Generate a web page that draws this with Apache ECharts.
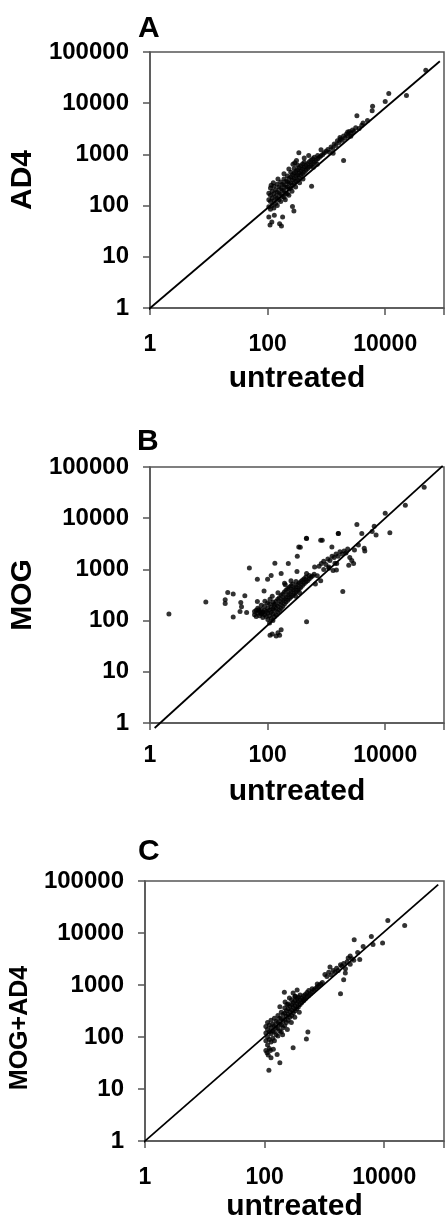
<!DOCTYPE html>
<html><head><meta charset="utf-8">
<script src="https://cdn.jsdelivr.net/npm/echarts@6/dist/echarts.min.js"></script>
<style>html,body{margin:0;padding:0;background:#fff}#c{width:447px;height:1223px}</style>
</head><body><div id="c"></div>
<script>
const panelLetters = ['A', 'B', 'C'];
const yTitles = ['AD4', 'MOG', 'MOG+AD4'];
const xTitle = 'untreated';
const yTickLabels = ['1', '10', '100', '1000', '10000', '100000'];
const xTickLabels = ['1', '100', '10000'];

// Panel A: [untreated, AD4]
const panelA = [
[105,60],[105,95],[105,130],[105,175],[112,85],[112,120],[112,160],[112,220],[120,100],[120,140],[120,190],
[128,90],[128,125],[128,170],[128,240],[137,110],[137,150],[137,205],[146,100],[146,140],[146,185],[146,260],
[156,130],[156,175],[156,230],[167,120],[167,165],[167,215],[167,290],[178,150],[178,200],[178,260],
[190,145],[190,195],[190,250],[190,330],[203,175],[203,230],[203,300],[217,170],[217,230],[217,290],[217,380],
[232,210],[232,270],[232,340],[248,220],[248,280],[248,360],[248,450],[265,250],[265,320],[265,400],
[283,270],[283,340],[283,430],[283,530],[302,300],[302,380],[302,470],[323,320],[323,400],[323,500],[323,620],
[345,350],[345,440],[345,550],[368,390],[368,480],[368,600],[393,420],[393,520],[393,650],[420,450],[420,560],[420,700],
[449,490],[449,610],[479,530],[479,660],[512,570],[512,720],[547,610],[547,770],[584,660],[584,820],[624,700],[624,880],
[666,760],[711,820],[711,950],[760,880],[811,940],[866,1000],[925,1080],[988,1150],
[200,130],[230,160],[260,190],[300,230],[350,280],[400,330],[190,420],[230,520],[270,640],[310,760],[420,850],
[500,950],[600,560],[700,640],[150,330],[125,280],[115,250],
[110,42],[118,48],[160,44],[172,40],[265,96],[280,78],[340,1080],[290,690],[560,240],[180,60],[130,65],
[1060,1250],[1130,1100],[1200,1400],[1280,1300],[1360,1600],[1450,1500],
[1540,1850],[1640,1700],[1740,2000],[1850,1900],[1960,2300],[2080,2100],[2200,2500],[2330,2300],[2470,2800],
[2620,2600],[2780,3000],[2950,2800],[3150,3300],[1960,760],[3300,5700],[4200,4100],[6000,7100],[6100,8700],
[10000,10800],[11500,15400],[23000,14200],[49000,44000],[1300,1050],[1700,2150],[2300,2750],[2600,2250],
[3600,3200],[4000,3700],[5000,4600],[810,1230]
];

// Panel B: [untreated, MOG]
const panelB = [
[60,130],[60,150],[64,120],[64,160],[68,140],[68,175],[73,125],[73,150],[78,135],[78,165],[78,200],[83,115],[83,145],
[89,130],[89,160],[89,190],[95,120],[95,150],[101,105],[101,140],[101,175],[108,90],[108,125],[108,160],[108,210],
[115,110],[115,145],[115,185],[123,100],[123,135],[123,170],[123,230],[131,120],[131,160],[131,210],
[140,130],[140,175],[140,240],[149,145],[149,190],[149,260],[159,160],[159,210],[159,280],[170,175],[170,230],[170,310],
[181,190],[181,250],[181,330],[193,210],[193,270],[193,360],[206,230],[206,290],[206,390],[220,250],[220,320],[220,420],
[235,270],[235,340],[235,450],[250,290],[250,370],[250,480],[267,310],[267,400],[267,520],[285,340],[285,430],
[304,360],[304,460],[304,580],[324,390],[324,500],[346,420],[346,540],[369,450],[369,580],[394,490],[394,620],
[420,530],[420,660],[448,570],[448,710],[478,600],[510,650],[510,760],[544,700],[580,740],[619,800],
[120,300],[150,350],[200,500],[250,600],[300,300],[350,350],[130,200],[100,220],[90,240],[110,260],
[750,1150],[820,1300],[900,1450],[980,1250],[1060,1600],[1150,1500],[1250,1800],[1350,1700],[1460,2000],[1580,1800],
[1700,2200],[1850,2000],[2000,2300],[2150,2100],[2300,2500],[2500,1700],[2700,1500],[2900,1300],[2400,1200],[1900,370],
[4500,2300],[4400,2600],[6500,7000],[7000,4700],[6000,5500],[3300,7500],[4000,5000],[10000,12500],[12000,5200],
[22000,18000],[46000,40000],[1600,5000],[800,3700],[460,4000],[360,2700],[1240,2750],[320,1800],[225,1300],[133,1320],
[3000,2400],[3500,3000],[1100,1050],[1300,950],[800,600],[900,1000],[650,520],[700,750],[1500,1300],
[2.1,135],[8.9,230],[21,355],[26,330],[19,255],[19,215],[26,117],[35,225],[36,187],[41,305],[34,150],[44,144],
[49,1070],[67,640],[87,380],[67,235],[71,162],[81,139],[100,640],[115,760],[170,830],[194,537],[339,2750],[457,4050],
[850,3700],[1590,5000],[630,1120],[460,830],[316,910],[1100,1120],[1400,1320],[1480,970],[460,95],
[110,52],[160,52],[170,66],[120,55],[140,50],[150,58]
];

// Panel C: [untreated, MOG+AD4]
const panelC = [
[105,55],[105,85],[105,120],[105,160],[112,70],[112,100],[112,140],[112,190],[120,60],[120,90],[120,125],[120,170],
[128,80],[128,115],[128,150],[128,210],[137,95],[137,130],[137,175],[146,85],[146,125],[146,165],[146,230],
[156,110],[156,150],[156,200],[167,105],[167,145],[167,190],[167,260],[178,130],[178,175],[178,230],
[190,125],[190,170],[190,225],[190,300],[203,150],[203,200],[203,270],[217,165],[217,220],[217,290],[217,360],
[232,190],[232,250],[232,320],[248,210],[248,270],[248,350],[248,430],[265,240],[265,310],[265,390],
[283,260],[283,330],[283,420],[283,520],[302,290],[302,370],[302,460],[323,320],[323,400],[323,500],[323,600],
[345,350],[345,440],[345,550],[368,380],[368,480],[368,590],[393,420],[393,520],[393,640],[420,460],[420,560],
[449,500],[449,620],[479,540],[479,660],[512,590],[512,720],[547,630],[547,780],[584,680],[624,730],[624,850],
[666,800],[711,860],[760,920],[760,1050],[811,980],[866,1050],[925,1120],
[200,110],[240,140],[280,190],[320,240],[380,300],[180,380],[220,470],[260,560],[300,700],[350,800],[450,520],
[118,23],[180,32],[162,46],[300,62],[500,92],[530,125],[110,50],[115,45],[125,55],[140,58],[128,40],
[214,725],[236,420],[324,605],
[1020,1600],[1100,1450],[1240,2230],[1180,1750],[1300,1550],[1400,1900],
[1500,1750],[1600,2100],[1700,1900],[1860,680],[2100,1260],[1950,2300],[2240,1700],[2100,2600],[2250,2050],[2400,2800],
[2500,3300],[2700,2500],[2900,3200],[1860,2450],[3100,3000],[3150,7400],[3900,3100],[4450,5500],[6500,6000],[6100,8600],
[9400,6400],[11500,17400],[22000,14000],[2700,3600],[3600,4200]
];

const lineA = [[0.8, 0.8], [85000, 66000]];
const lineB = [[1.2, 0.8], [95000, 105000]];
const lineC = [[0.78, 0.78], [80000, 85000]];

const panels = [panelA, panelB, panelC];
const lines = [lineA, lineB, lineC];

const FONT = "'Liberation Sans', Arial, sans-serif";
const grids = [
  {left: 139, top: 52, width: 306, height: 256},
  {left: 138, top: 467, width: 310, height: 256},
  {left: 139, top: 881, width: 306, height: 261}
];
const letterTops = [14, 427, 837];
const xLabelMargins = [25, 21, 25];
const xNameGaps = [56, 54, 51];
const yNameSizes = [30, 30, 25];
const yNamePads = [0, 0, 34];
const axisColor = '#555';

const fmtY = v => { const s = String(Math.round(v)); return yTickLabels.includes(s) ? s : ''; };
const fmtX = v => { const s = String(Math.round(v)); return xTickLabels.includes(s) ? s : ''; };

const option = {
  animation: false,
  backgroundColor: '#fff',
  title: panelLetters.map((t, i) => ({
    text: t, left: grids[i].left - 1, top: letterTops[i], padding: 0,
    textStyle: {fontSize: 30, fontWeight: 'bold', color: '#000', fontFamily: FONT}
  })),
  grid: grids.map(g => Object.assign({show: true, borderColor: axisColor, borderWidth: 1.5, containLabel: false}, g)),
  xAxis: grids.map((g, i) => ({
    type: 'log', logBase: 100, gridIndex: i, min: 1, max: 100000,
    axisLine: {show: true, onZero: false, lineStyle: {color: axisColor, width: 1.5}},
    axisTick: {show: true, inside: false, length: 7, lineStyle: {color: axisColor, width: 1.5}},
    axisLabel: {show: true, margin: xLabelMargins[i], fontSize: 23, fontWeight: 'bold', color: '#000',
      fontFamily: FONT, formatter: fmtX},
    splitLine: {show: false},
    name: xTitle, nameLocation: 'middle', nameGap: xNameGaps[i],
    nameTextStyle: {fontSize: 30, fontWeight: 'bold', color: '#000', fontFamily: FONT}
  })),
  yAxis: grids.map((g, i) => ({
    type: 'log', logBase: 10, gridIndex: i, min: 1, max: 100000,
    axisLine: {show: true, onZero: false, lineStyle: {color: axisColor, width: 1.5}},
    axisTick: {show: true, inside: false, length: 7, lineStyle: {color: axisColor, width: 1.5}},
    axisLabel: {show: true, margin: 21, fontSize: 24, fontWeight: 'bold', color: '#000',
      fontFamily: FONT, formatter: fmtY},
    splitLine: {show: false},
    name: yTitles[i], nameLocation: 'middle', nameGap: 96, nameRotate: 90,
    nameTextStyle: {fontSize: yNameSizes[i], fontWeight: 'bold', color: '#000', fontFamily: FONT,
      padding: [0, yNamePads[i], 0, 0]}
  })),
  series: [].concat(
    lines.map((d, i) => ({
      type: 'line', xAxisIndex: i, yAxisIndex: i, data: d, symbol: 'none', clip: false,
      lineStyle: {color: '#000', width: 1.8}, z: 2, silent: true
    })),
    panels.map((d, i) => ({
      type: 'scatter', xAxisIndex: i, yAxisIndex: i, data: d, symbol: 'circle', symbolSize: 5,
      itemStyle: {color: '#000'}, z: 3, silent: true
    }))
  )
};
echarts.init(document.getElementById('c'), null, {renderer: 'canvas'}).setOption(option);
</script>
</body></html>
